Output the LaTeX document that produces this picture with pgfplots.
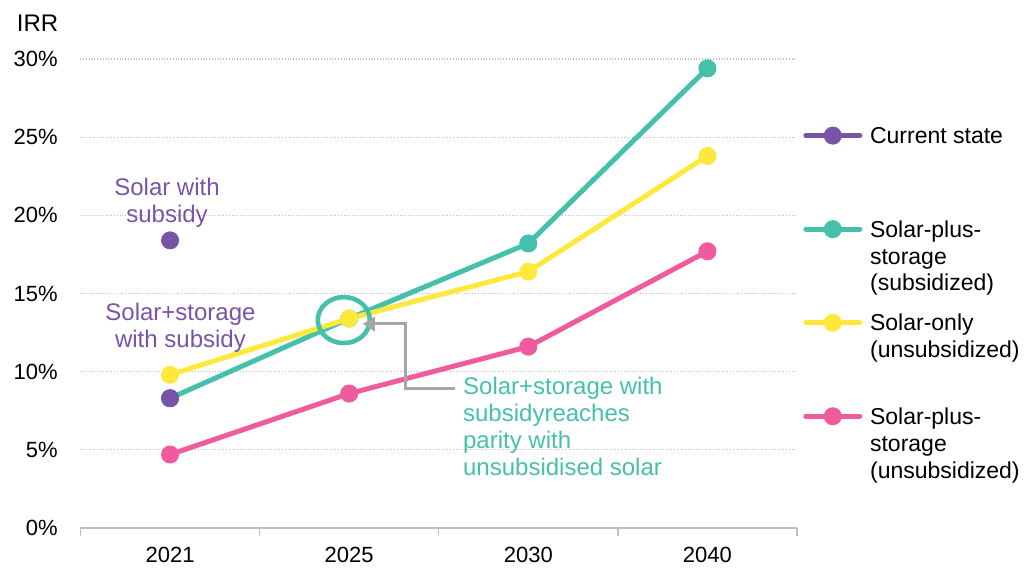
\documentclass[border=0pt]{standalone}
\usepackage{fontspec}
\setmainfont{Liberation Sans}
\usepackage{pgfplots}
\pgfplotsset{compat=1.18}
\usetikzlibrary{arrows.meta}
\definecolor{cpurple}{HTML}{7853A8}
\definecolor{cteal}{HTML}{45C0AA}
\definecolor{cyellow}{HTML}{FFE83C}
\definecolor{cpink}{HTML}{EF5B9C}
\definecolor{cgrid}{HTML}{BFBFBF}
\definecolor{caxis}{HTML}{BFBFBF}
\definecolor{carrow}{HTML}{A6A6A6}
\newcommand{\lgtext}[1]{\parbox[t]{100pt}{#1}}
\begin{document}
\fontsize{11}{13.4}\selectfont
\begin{tikzpicture}
\path[use as bounding box] (-40.25pt,-21pt) rectangle (474.75pt,264pt);
\begin{axis}[
  at={(0pt,0pt)}, anchor=south west,
  scale only axis, width=358.25pt, height=234.5pt,
  clip=false,
  xmin=-0.5, xmax=3.5, ymin=0, ymax=30,
  axis x line*=bottom, axis y line*=left,
  y axis line style={draw=none},
  x axis line style={draw=caxis, line width=0.7pt},
  ytick={0,5,...,30},
  yticklabel={\pgfmathprintnumber{\tick}\%},
  /pgf/number format/assume math mode=true,
  ymajorgrids,
  major grid style={densely dotted, draw=cgrid, line width=0.6pt},
  xtick={0,1,2,3}, xticklabels={2021,2025,2030,2040},
  minor xtick={-0.5,0.5,1.5,2.5,3.5},
  major tick length=0pt, minor tick length=4pt, tick align=outside,
  minor tick style={draw=caxis, line width=0.7pt},
  major tick style={draw=none},
  tick label style={font=\fontsize{11}{13}\selectfont},
  yticklabel style={xshift=-7.5pt},
  xticklabel style={yshift=-5.8pt},
  legend style={at={(1.0088,0.862)}, anchor=north west, draw=none, fill=none,
    inner sep=0pt, outer sep=0pt, row sep=32.8pt, column sep=1.9pt,
    font=\fontsize{11.5}{13.4}\selectfont,
    cells={anchor=base west, inner sep=0pt}},
  legend image code/.code={\draw[mark repeat=2,mark phase=2,#1,yshift=4.1pt] plot coordinates {(0pt,0pt)(13.5pt,0pt)(27pt,0pt)};},
  every axis plot/.append style={mark size=4.3pt, mark options={solid, line width=0.4pt}},
]
\addlegendimage{cpurple, line width=2.5pt, line cap=round, mark=*}
\addlegendentry{\lgtext{Current state}}
\addlegendimage{cteal, line width=2.5pt, line cap=round, mark=*}
\addlegendentry{\lgtext{Solar-plus-\\storage\\(subsidized)}}
\addlegendimage{cyellow, line width=2.5pt, line cap=round, mark=*}
\addlegendentry{\lgtext{Solar-only\\(unsubsidized)}}
\addlegendimage{cpink, line width=2.5pt, line cap=round, mark=*}
\addlegendentry{\lgtext{Solar-plus-\\storage\\(unsubsidized)}}

\addplot[forget plot, cpink, line width=2.5pt, line join=round, mark=*] coordinates {(0,4.7)(1,8.6)(2,11.6)(3,17.7)};
\addplot[forget plot, cteal, line width=2.5pt, line join=round, mark=*] coordinates {(0,8.3)(1,13.4)(2,18.2)(3,29.4)};
\addplot[forget plot, cyellow, line width=2.5pt, line join=round, mark=*] coordinates {(0,9.8)(1,13.4)(2,16.4)(3,23.8)};
\addplot[forget plot, cpurple, only marks, mark=*] coordinates {(0,18.4)(0,8.3)};

\node[text=cpurple, align=center, font=\fontsize{12}{13.4}\selectfont] at (axis cs:-0.017,20.8) {Solar with\\subsidy};
\node[text=cpurple, align=center, font=\fontsize{12}{13.4}\selectfont] at (axis cs:0.058,12.82) {Solar+storage\\with subsidy};
\node[text=cteal, align=left, anchor=west, inner sep=0pt, font=\fontsize{12}{13.5}\selectfont] at (axis cs:1.634,6.49) {Solar+storage with\\subsidyreaches\\parity with\\unsubsidised solar};
\draw[cteal, line width=2.3pt] (axis cs:0.97,13.3) ellipse [x radius=13pt, y radius=11.5pt];
\draw[carrow, line width=1.5pt, -{Triangle[length=6pt,width=7pt]}] (axis cs:1.59,8.9) -| (axis cs:1.316,13.05) -- (axis cs:1.076,13.05);
\node[anchor=center, font=\fontsize{12}{13}\selectfont] at (axis cs:-0.74,32.3) {IRR};
\end{axis}
\end{tikzpicture}
\end{document}
